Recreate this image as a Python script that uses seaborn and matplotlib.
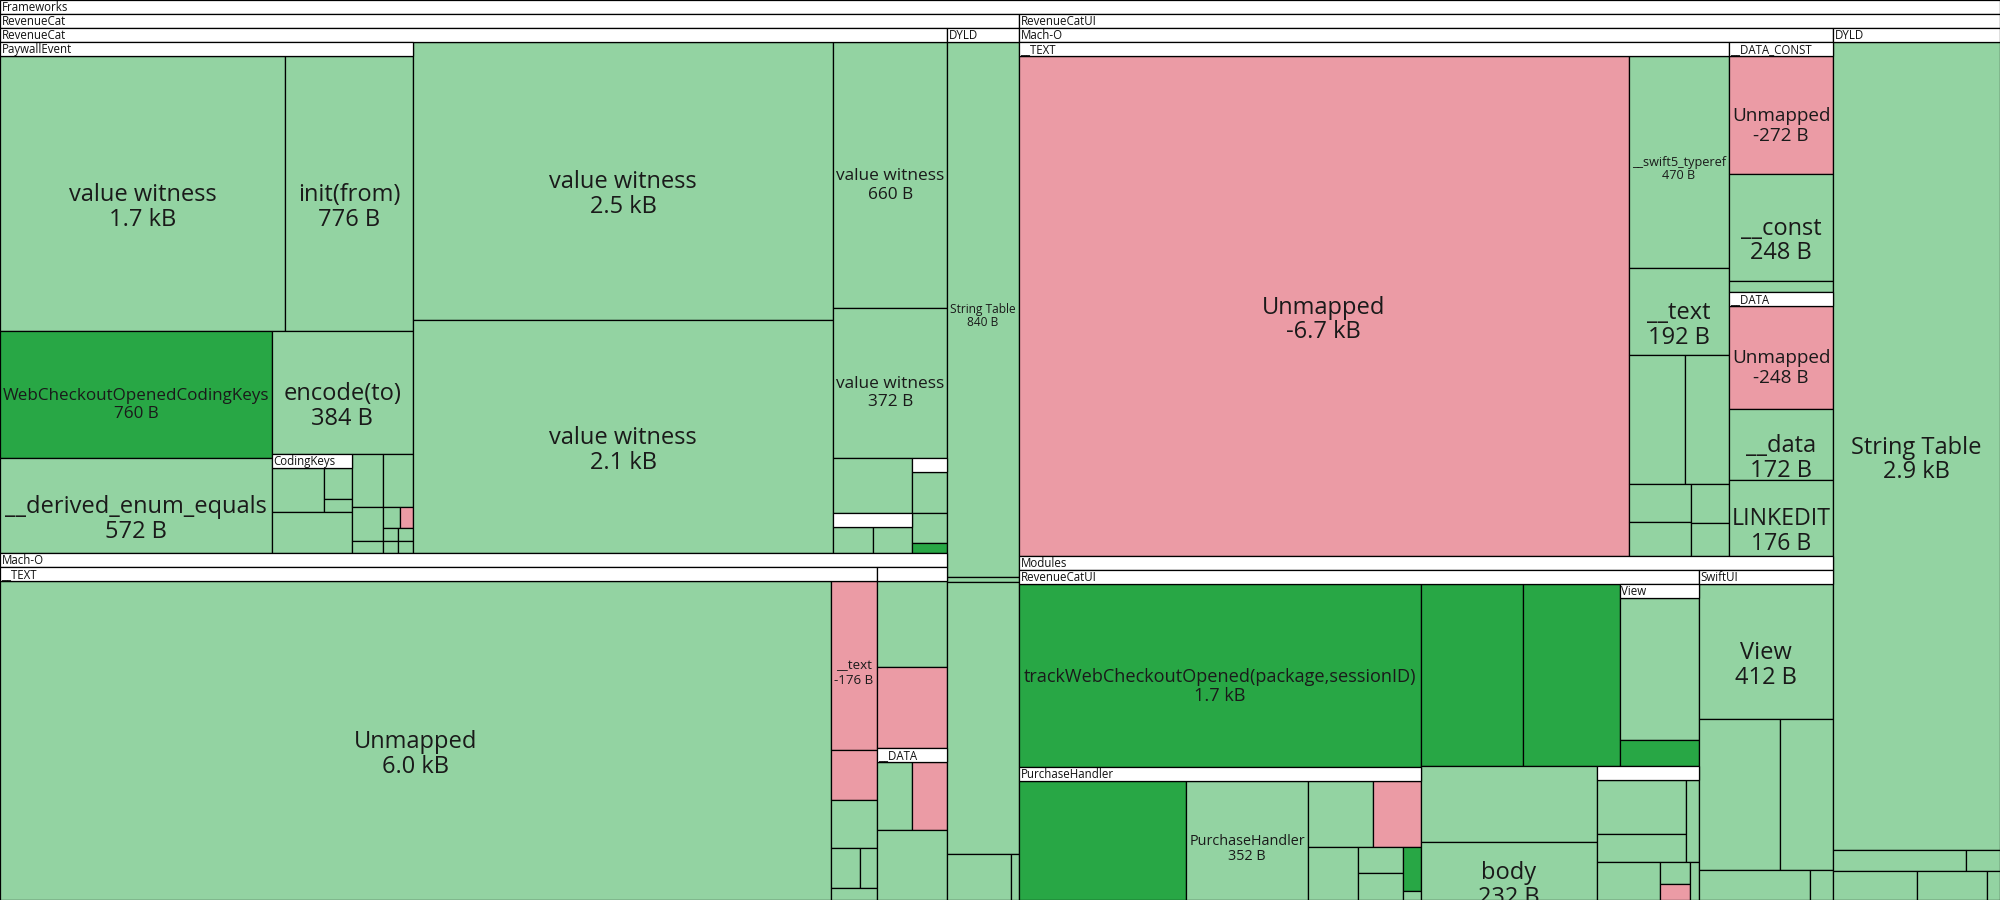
import matplotlib
matplotlib.use("Agg")
import matplotlib.pyplot as plt
import seaborn as sns

# ---- data (bytes changed; negative = shrank) ----
# RevenueCat framework, PaywallEvent type
paywall_names = ["value witness", "init(from)", "WebCheckoutOpenedCodingKeys", "__derived_enum_equals", "encode(to)"]
paywall_bytes = [1740, 776, 760, 572, 384]
paywall_added = [False, False, True, False, False]
paywall_misc_bytes = [56, 20, 9, 78, 36, 35, 24, 8, 8, -6, 4, 4, 4, 4]

# RevenueCat module, other value witnesses
witness_names = ["value witness", "value witness", "value witness", "value witness"]
witness_bytes = [2549, 2140, 660, 372]
witness_misc_bytes = [96, 28, 28, 34, 25, 8]
witness_misc_added = [False, False, False, False, False, True]

# RevenueCat Mach-O
rc_text_names = ["Unmapped", "__text", "", "", "", "", ""]
rc_text_bytes = [6049, -176, -53, 50, 27, 15, 12]
rc_data_bytes = [138, -130, 62, -60, 112]

# RevenueCat DYLD
rc_dyld_names = ["String Table", "", "", "", ""]
rc_dyld_bytes = [840, 8, 427, 65, 8]

# RevenueCatUI Mach-O
ui_text_names = ["Unmapped", "__swift5_typeref", "__text", "", "", "", "", "", ""]
ui_text_bytes = [-6749, 470, 192, 160, 126, 53, 48, 33, 27]
ui_const_names = ["Unmapped", "__const", "", "Unmapped", "__data", "LINKEDIT"]
ui_const_bytes = [-272, 248, 26, -248, 172, 176]

# RevenueCatUI modules
ui_module_names = ["trackWebCheckoutOpened(package,sessionID)", "", "", "", "", "", "body"]
ui_module_bytes = [1680, 425, 402, 268, 49, 307, 232]
ui_module_added = [True, True, True, False, True, False, False]
purchase_names = ["", "PurchaseHandler", "", "", "", "", "", "", ""]
purchase_bytes = [480, 352, 103, -75, 65, 29, 29, 19, 4]
purchase_added = [True, False, False, False, False, False, False, True, False]
ui_misc_bytes = [115, 60, 27, 58, 16, -12, 8]
swiftui_names = ["View", "", "", "", ""]
swiftui_bytes = [412, 280, 184, 75, 16]

# RevenueCatUI DYLD
ui_dyld_names = ["String Table", "", "", "", "", ""]
ui_dyld_bytes = [2940, 62, 16, 52, 44, 8]

LIGHT, DARK, PINK = "#93d3a2", "#28a745", "#eb9ba5"
W, H, HDR = 2000.0, 900.0, 14.0
PAD = 0.5  # share of header band area counted in a group's weight
FONT = ["Open Sans", "DejaVu Sans"]


def cells(names, sizes, added=None):
    names = names or [""] * len(sizes)
    added = added or [False] * len(sizes)
    return [dict(name=n, size=s, added=a) for n, s, a in zip(names, sizes, added)]


def row(*kids):
    return dict(dir="h", kids=list(kids), title=None)


def col(*kids):
    return dict(dir="v", kids=list(kids), title=None)


def group(title, d, *kids):
    return dict(dir=d, kids=list(kids), title=title)


# ---- hierarchy ----
pw = cells(paywall_names, paywall_bytes, paywall_added)
pm = cells(None, paywall_misc_bytes)
paywall = group("PaywallEvent", "v",
                row(pw[0], pw[1]),
                row(col(pw[2], pw[3]),
                    col(pw[4],
                        row(group("CodingKeys", "v", row(pm[0], col(pm[1], pm[2])), pm[3]),
                            col(row(pm[4], pm[5]),
                                row(col(pm[6], pm[7]),
                                    col(row(pm[8], pm[9]), row(pm[10], pm[11]), row(pm[12], pm[13]))))))))
wt = cells(witness_names, witness_bytes)
wm = cells(None, witness_misc_bytes, witness_misc_added)
rc_top = row(paywall,
             col(wt[0], wt[1]),
             col(wt[2], wt[3], row(col(wm[0], group("", "h", wm[1], wm[2])),
                                   group("", "v", wm[3], wm[4], wm[5]))))
rt = cells(rc_text_names, rc_text_bytes)
rd = cells(None, rc_data_bytes)
rc_macho = group("Mach-O", "h",
                 group("__TEXT", "h", rt[0], col(rt[1], rt[2], rt[3], row(rt[4], rt[5]), rt[6])),
                 group("", "v", rd[0], rd[1], group("__DATA", "h", rd[2], rd[3]), rd[4]))
rdy = cells(rc_dyld_names, rc_dyld_bytes)
revenuecat = group("RevenueCat", "h",
                   group("RevenueCat", "v", rc_top, rc_macho),
                   group("DYLD", "v", rdy[0], rdy[1], rdy[2], row(rdy[3], rdy[4])))

ut = cells(ui_text_names, ui_text_bytes)
uc = cells(ui_const_names, ui_const_bytes)
ui_top = row(group("__TEXT", "h", ut[0],
                   col(ut[1], ut[2], row(ut[3], ut[4]), row(col(ut[5], ut[6]), col(ut[7], ut[8])))),
             group("__DATA_CONST", "v", uc[0], uc[1], uc[2], group("__DATA", "v", uc[3], uc[4]), uc[5]))
um = cells(ui_module_names, ui_module_bytes, ui_module_added)
ph = cells(purchase_names, purchase_bytes, purchase_added)
ux = cells(None, ui_misc_bytes)
purchase = group("PurchaseHandler", "h", ph[0], ph[1],
                 col(row(ph[2], ph[3]), row(ph[4], col(ph[5], ph[6]), col(ph[7], ph[8]))))
rcui_mod = group("RevenueCatUI", "h",
                 col(um[0], purchase),
                 col(row(um[1], um[2], group("View", "v", um[3], um[4])),
                     row(col(um[5], um[6]),
                         group("", "v", row(col(ux[0], ux[1]), ux[2]),
                               row(ux[3], col(ux[4], ux[5]), ux[6])))))
sw = cells(swiftui_names, swiftui_bytes)
modules = group("Modules", "h", rcui_mod,
                group("SwiftUI", "v", sw[0], row(sw[1], sw[2]), row(sw[3], sw[4])))
udy = cells(ui_dyld_names, ui_dyld_bytes)
revenuecatui = group("RevenueCatUI", "h",
                     group("Mach-O", "v", ui_top, modules),
                     group("DYLD", "v", udy[0], row(udy[1], udy[2]), row(udy[3], udy[4], udy[5])))
root = group("Frameworks", "h", revenuecat, revenuecatui)


# ---- layout: areas follow |bytes|, part of each header band counted ----
def weight(n):
    if "kids" not in n:
        return abs(n["size"])
    return sum(weight(k) for k in n["kids"]) + n.get("pad", 0.0)


def place(n, x0, y0, x1, y1):
    n["box"] = (x0, y0, x1, y1)
    if "kids" not in n:
        return
    if n["title"] is not None:
        y0 += HDR
    ws = [weight(k) for k in n["kids"]]
    pos = x0 if n["dir"] == "h" else y0
    span = (x1 - x0) if n["dir"] == "h" else (y1 - y0)
    for k, w in zip(n["kids"], ws):
        step = span * w / sum(ws)
        if n["dir"] == "h":
            place(k, pos, y0, pos + step, y1)
        else:
            place(k, x0, pos, x1, pos + step)
        pos += step


def walk(n):
    yield n
    for k in n.get("kids", []):
        yield from walk(k)


for _ in range(8):
    place(root, 0, 0, W, H)
    scale = W * H / weight(root)
    for n in walk(root):
        if "kids" in n and n["title"] is not None:
            bx = n["box"]
            n["pad"] = PAD * (bx[2] - bx[0]) * HDR / scale
place(root, 0, 0, W, H)


def fmt(v):
    return f"{v / 1000:.1f} kB" if abs(v) >= 1000 else f"{v} B"


# ---- draw ----
sns.set_theme(style="white")
plt.rcParams["font.family"] = FONT
fig = plt.figure(figsize=(20, 9), dpi=100)
ax = fig.add_axes([0, 0, 1, 1])
ax.set_xlim(0, W)
ax.set_ylim(900, 0)
ax.axis("off")

nodes = list(walk(root))
leaves = [n for n in nodes if "kids" not in n]
heads = [n for n in nodes if "kids" in n and n["title"] is not None]


def colour(n):
    if n["size"] < 0:
        return PINK
    return DARK if n["added"] else LIGHT


ax.bar([n["box"][0] for n in leaves], [n["box"][3] - n["box"][1] for n in leaves],
       width=[n["box"][2] - n["box"][0] for n in leaves], bottom=[n["box"][1] for n in leaves],
       align="edge", color=[colour(n) for n in leaves], edgecolor="black", linewidth=0.9)
ax.bar([n["box"][0] for n in heads], [HDR] * len(heads),
       width=[n["box"][2] - n["box"][0] for n in heads], bottom=[n["box"][1] for n in heads],
       align="edge", color="white", edgecolor="black", linewidth=0.9)

for n in heads:
    if n["title"]:
        x0, y0 = n["box"][0], n["box"][1]
        ax.text(x0 + 1.5, y0 + HDR / 2 + 0.5, n["title"], fontsize=8.3, ha="left", va="center",
                color="#111111")

renderer = fig.canvas.get_renderer()
MAX_FS = 17.0
for n in leaves:
    if not n["name"]:
        continue
    x0, y0, x1, y1 = n["box"]
    cx, cy = (x0 + x1) / 2, (y0 + y1) / 2
    t1 = ax.text(cx, cy, n["name"], fontsize=MAX_FS, ha="center", va="baseline", color="#1a1a1a")
    t2 = ax.text(cx, cy, fmt(n["size"]), fontsize=MAX_FS, ha="center", va="baseline", color="#1a1a1a")
    widest = max(t.get_window_extent(renderer).width for t in (t1, t2))
    fs = min(MAX_FS, MAX_FS * (x1 - x0 - 6) / widest)
    px = fs * 100 / 72
    for t, dy in ((t1, 0.32 * px), (t2, 1.37 * px)):
        t.set_fontsize(fs)
        t.set_y(cy + dy)

fig.savefig("out.png", dpi=100)
